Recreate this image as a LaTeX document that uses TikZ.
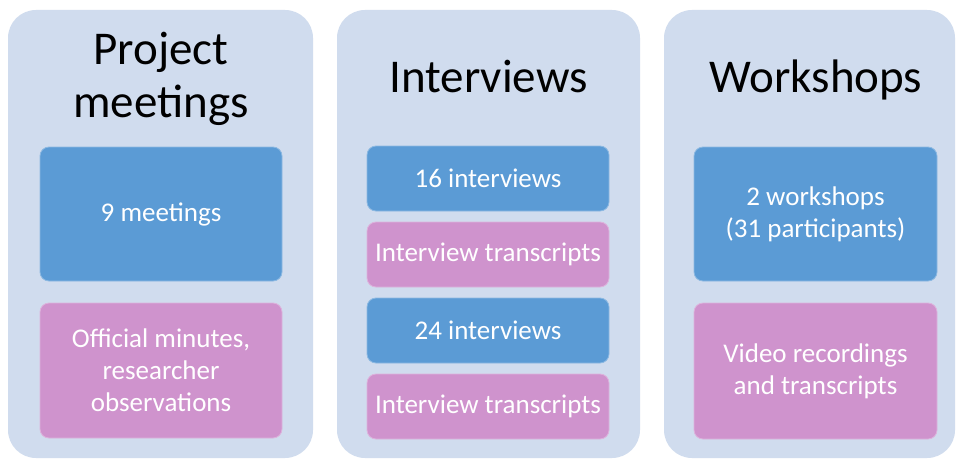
\documentclass[tikz,border=0pt]{standalone}
\usepackage{fontspec}
\setmainfont{Carlito}
\definecolor{panelbg}{HTML}{D0DCEE}
\definecolor{bluebox}{HTML}{5B9BD5}
\definecolor{pinkbox}{HTML}{CF93CD}
\begin{document}
\begin{tikzpicture}[x=1pt,y=-1pt,
  panel/.style={rectangle,rounded corners=28pt,fill=panelbg,draw=none,inner sep=0pt},
  bbox/.style={rectangle,rounded corners=9pt,fill=bluebox,draw=bluebox!70!white,line width=0.8pt,
     text=white,align=center,inner sep=0pt,minimum width=242pt,
     font=\fontsize{27}{32}\selectfont},
  pbox/.style={bbox,fill=pinkbox,draw=pinkbox!70!white},
  title/.style={text=black,align=center,inner sep=0pt,font=\fontsize{47}{53}\selectfont}
]
\useasboundingbox[fill=white] (0,0) rectangle (957,460);
% panels
\node[panel,minimum width=305pt,minimum height=448pt] (p1) at (160.5,234) {};
\node[panel,minimum width=303pt,minimum height=448pt] (p2) at (488.5,234) {};
\node[panel,minimum width=291pt,minimum height=448pt] (p3) at (809.5,234) {};
% titles
\node[title,anchor=base] (t1) at (161,117) {Project\\meetings};
\node[title,anchor=base] (t2) at (488.5,92) {Interviews};
\node[title,anchor=base] (t3) at (816,92) {Workshops};
% panel 1
\node[bbox,minimum height=134pt] (b1) at (161,214) {9 meetings};
\node[pbox,minimum height=135pt] (k1) at (161,370.5) {Official minutes,\\researcher\\observations};
% panel 2
\node[bbox,minimum height=65pt] (b2) at (488,178.5) {16 interviews};
\node[pbox,minimum height=65pt] (k2) at (488,254.5) {Interview transcripts};
\node[bbox,minimum height=65pt] (b3) at (488,330.5) {24 interviews};
\node[pbox,minimum height=65pt] (k3) at (488,406.5) {Interview transcripts};
% panel 3
\node[bbox,minimum width=243pt,minimum height=134pt] (b4) at (815.5,214) {2 workshops\\(31 participants)};
\node[pbox,minimum width=243pt,minimum height=136pt] (k4) at (815.5,371) {Video recordings\\and transcripts};
\end{tikzpicture}
\end{document}
